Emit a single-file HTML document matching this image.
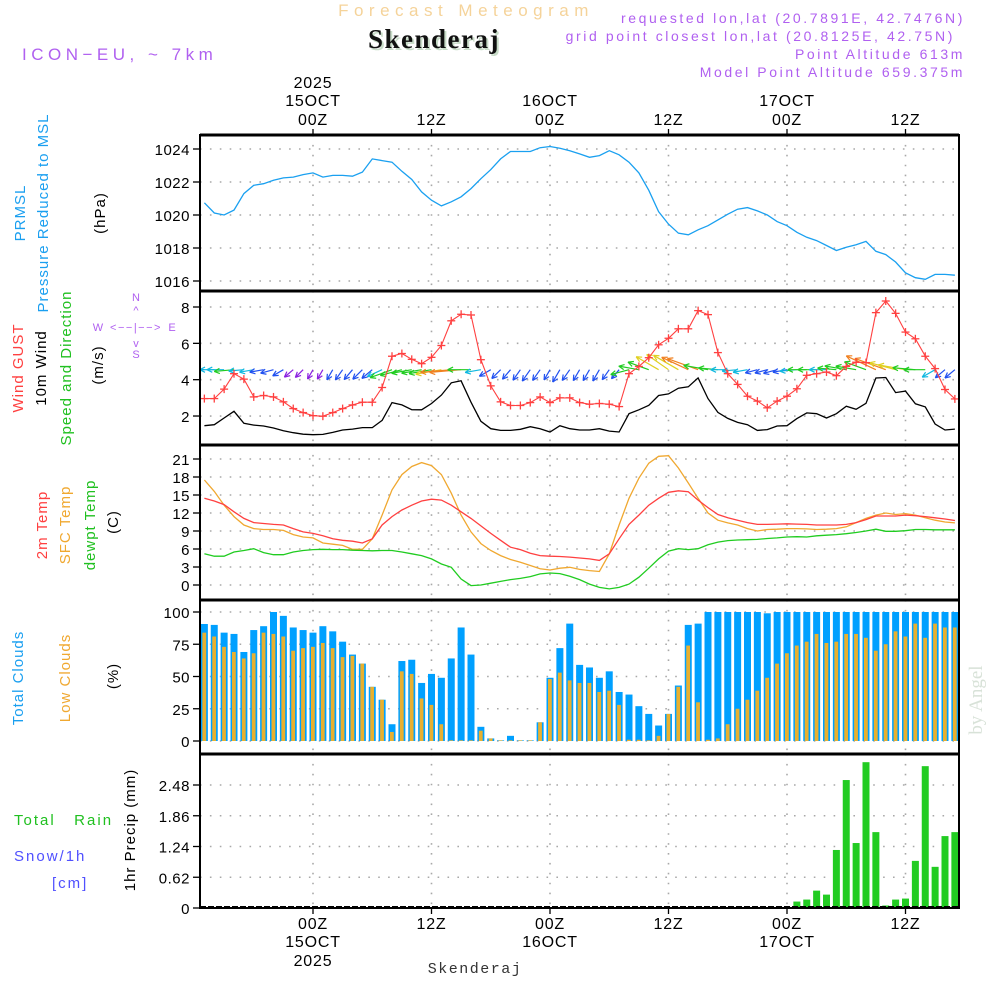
<!DOCTYPE html>
<html><head><meta charset="utf-8">
<style>
html,body{margin:0;padding:0;background:#fff;}
svg{display:block;font-family:"Liberation Sans",sans-serif;}
</style></head>
<body>
<svg id="c" width="1000" height="1000" viewBox="0 0 1000 1000" xmlns="http://www.w3.org/2000/svg">
<g>
<text x="466" y="16" text-anchor="middle" font-size="17" fill="#f5d39a" letter-spacing="5.5">Forecast Meteogram</text>
<text x="436" y="50" text-anchor="middle" font-size="27" font-weight="bold" font-family="Liberation Serif,serif" fill="#c8dcc8" letter-spacing="1.5">Skenderaj</text>
<text x="434" y="48" text-anchor="middle" font-size="27" font-weight="bold" font-family="Liberation Serif,serif" fill="#111" letter-spacing="1.5">Skenderaj</text>
<text x="965" y="23" text-anchor="end" font-size="14" fill="#b060f0" letter-spacing="2.6">requested lon,lat (20.7891E, 42.7476N)</text>
<text x="955" y="41" text-anchor="end" font-size="14" fill="#b060f0" letter-spacing="2.6">grid point closest lon,lat (20.8125E, 42.75N)</text>
<text x="965" y="59" text-anchor="end" font-size="14" fill="#b060f0" letter-spacing="2.6">Point Altitude 613m</text>
<text x="965" y="77" text-anchor="end" font-size="14" fill="#b060f0" letter-spacing="2.6">Model Point Altitude 659.375m</text>
<text x="22" y="60" font-size="17" fill="#b060f0" letter-spacing="4.5">ICON−EU, ~ 7km</text>
<text x="982" y="700" font-size="19" font-family="Liberation Serif,serif" fill="#d8e2d8" transform="rotate(-90 982 700)" text-anchor="middle">by Angel</text>
</g>
<g font-size="15" letter-spacing="1">
<text transform="translate(25,213) rotate(-90)" text-anchor="middle" fill="#1a9ff0">PRMSL</text>
<text transform="translate(48,213) rotate(-90)" text-anchor="middle" fill="#1a9ff0">Pressure Reduced to MSL</text>
<text transform="translate(105,213) rotate(-90)" text-anchor="middle" fill="#000">(hPa)</text>
<text transform="translate(23,368) rotate(-90)" text-anchor="middle" fill="#ff4040">Wind GUST</text>
<text transform="translate(46,368) rotate(-90)" text-anchor="middle" fill="#000">10m Wind</text>
<text transform="translate(71,368) rotate(-90)" text-anchor="middle" fill="#20c020">Speed and Direction</text>
<text transform="translate(103,365) rotate(-90)" text-anchor="middle" fill="#000">(m/s)</text>
<g fill="#b060f0" stroke="none" font-size="11" letter-spacing="0">
<text x="136" y="301" text-anchor="middle">N</text><text x="136" y="358" text-anchor="middle">S</text>
<text x="98" y="331" text-anchor="middle">W</text><text x="172" y="331" text-anchor="middle">E</text>
<text x="136" y="331" text-anchor="middle" letter-spacing="1.5">&lt;−−|−−&gt;</text>
<text x="136" y="314" text-anchor="middle">^</text><text x="136" y="347" text-anchor="middle">v</text>
</g>
<text transform="translate(47,525) rotate(-90)" text-anchor="middle" fill="#ff4040">2m Temp</text>
<text transform="translate(70,525) rotate(-90)" text-anchor="middle" fill="#f0a830">SFC Temp</text>
<text transform="translate(95,525) rotate(-90)" text-anchor="middle" fill="#20c020">dewpt Temp</text>
<text transform="translate(118,522) rotate(-90)" text-anchor="middle" fill="#000">(C)</text>
<text transform="translate(23,678) rotate(-90)" text-anchor="middle" fill="#1a9ff0">Total Clouds</text>
<text transform="translate(70,678) rotate(-90)" text-anchor="middle" fill="#f0a830">Low Clouds</text>
<text transform="translate(118,676) rotate(-90)" text-anchor="middle" fill="#000">(%)</text>
<text x="14" y="825" fill="#20c020" letter-spacing="2" xml:space="preserve">Total   Rain</text>
<text x="14" y="861" fill="#5050ff" letter-spacing="2">Snow/1h</text>
<text x="52" y="888" fill="#5050ff" letter-spacing="2">[cm]</text>
<text transform="translate(135,830) rotate(-90)" text-anchor="middle" fill="#000">1hr Precip (mm)</text>
</g>
<g id="plot"></g>
</svg>
<script>
const hours=[];for(let h=-11;h<=65;h++)hours.push(h);
const pressure=[1020.74,1020.12,1020.0,1020.3,1021.3,1021.8,1021.9,1022.1,1022.25,1022.3,1022.45,1022.55,1022.3,1022.4,1022.4,1022.35,1022.6,1023.4,1023.3,1023.2,1022.65,1022.15,1021.4,1020.9,1020.55,1020.8,1021.1,1021.6,1022.2,1022.75,1023.4,1023.85,1023.85,1023.85,1024.08,1024.15,1024.05,1023.9,1023.7,1023.5,1023.6,1023.9,1023.65,1023.2,1022.55,1021.5,1020.2,1019.45,1018.9,1018.8,1019.1,1019.35,1019.7,1020.05,1020.35,1020.45,1020.25,1020.0,1019.6,1019.35,1018.95,1018.65,1018.45,1018.15,1017.85,1018.05,1018.2,1018.4,1017.8,1017.6,1017.15,1016.5,1016.2,1016.1,1016.4,1016.4,1016.35];
const gust=[2.96,2.96,3.48,4.33,4.03,3.05,3.13,3.05,2.78,2.41,2.19,2.02,1.99,2.19,2.41,2.61,2.76,2.76,3.57,5.29,5.44,5.12,4.88,5.23,5.88,7.24,7.6,7.56,5.1,3.66,2.78,2.58,2.58,2.74,3.05,2.74,3.0,3.0,2.74,2.65,2.69,2.65,2.52,4.33,4.73,5.21,5.92,6.28,6.8,6.8,7.8,7.58,5.49,4.33,3.74,3.09,2.82,2.45,2.82,3.09,3.5,4.24,4.33,4.42,4.22,4.73,4.96,4.94,7.69,8.33,7.65,6.62,6.25,5.29,4.61,3.46,2.94];
const wspd=[1.47,1.52,1.89,2.26,1.6,1.5,1.45,1.34,1.19,1.08,1.0,0.97,0.99,1.1,1.23,1.28,1.36,1.36,1.76,2.74,2.61,2.35,2.34,2.69,3.15,3.83,3.94,2.76,1.71,1.3,1.21,1.21,1.27,1.41,1.3,1.12,1.47,1.3,1.23,1.23,1.3,1.17,1.12,2.13,2.34,2.59,3.13,3.22,3.53,3.61,4.1,2.96,2.2,1.87,1.65,1.52,1.21,1.25,1.45,1.47,1.86,2.17,2.13,1.89,2.13,2.54,2.37,2.7,4.09,4.12,3.29,3.37,2.67,2.5,1.56,1.23,1.28];
const wdir=[90,90,90,85,85,80,80,75,60,50,45,30,30,30,35,40,45,50,65,70,75,80,80,80,80,85,85,90,80,60,45,40,35,35,35,30,30,35,30,30,30,35,40,75,100,110,120,125,120,115,110,100,95,90,85,80,75,75,75,80,85,90,90,90,95,100,100,110,115,110,105,100,95,90,60,50,50];
const t2m=[14.45,14.0,13.4,12.2,11.1,10.4,10.25,10.1,10.0,9.4,8.85,8.6,8.2,7.7,7.45,7.3,7.0,7.7,10.0,11.4,12.5,13.3,14.0,14.3,14.15,13.3,12.2,11.1,9.85,8.6,7.45,6.3,5.9,5.3,4.9,4.8,4.75,4.65,4.5,4.35,4.1,5.2,7.7,10.1,11.65,13.3,14.45,15.45,15.7,15.55,14.15,12.9,11.75,11.2,10.8,10.4,10.1,10.1,10.15,10.2,10.15,10.1,10.0,10.0,10.0,10.1,10.4,10.9,11.5,11.5,11.5,11.65,11.55,11.4,11.2,11.0,10.75];
const tsfc=[17.5,15.6,13.3,11.4,10.0,9.4,9.25,9.25,9.1,8.4,8.0,7.85,7.0,6.8,6.6,5.95,5.95,7.7,11.65,15.85,18.4,19.75,20.4,19.9,18.4,15.3,11.65,8.85,6.9,5.75,4.9,4.25,3.8,3.25,2.7,2.5,2.8,2.95,2.6,2.4,2.25,5.2,10.0,14.45,17.8,20.3,21.45,21.55,19.5,17.0,14.45,12.0,10.8,10.35,10.0,9.4,9.0,9.25,9.3,9.4,9.4,9.35,9.25,9.3,9.4,9.7,10.4,11.1,11.65,12.0,11.75,11.9,11.65,11.2,10.8,10.5,10.35];
const dewpt=[5.2,4.8,4.8,5.5,5.75,6.05,5.4,5.05,5.05,5.5,5.75,5.9,5.95,5.9,5.9,5.8,5.75,5.7,5.75,5.75,5.5,5.2,4.9,4.35,3.5,2.95,1.0,-0.1,0,0.3,0.6,0.9,1.1,1.4,1.85,2.0,1.9,1.45,0.9,0.15,-0.4,-0.65,-0.4,0.15,1.3,2.8,4.35,5.65,6.05,5.9,6.05,6.7,7.15,7.4,7.5,7.55,7.6,7.75,7.85,8.0,8.05,8.0,8.2,8.3,8.4,8.55,8.75,9.0,9.3,8.95,8.95,9.05,9.25,9.25,9.2,9.2,9.2];
const totalCloud=[90.7,90,84,83,69,86,89,100,97,88,86,84,89,85,77,67,60,42,32,13,62,63,45,52,49,64,88,67,11,2,0.5,4,0.5,0.5,14.5,49,72,91,59,57,49,54,38,36,27,21,12,21,43,90,91,100,100,100,100,100,100,99,100,100,100,100,100,100,100,100,100,100,100,100,100,100,100,100,100,100,100];
const lowCloud=[84,81,73,69,64,68,84,83,81,70,72,73,76,72,65,66,60,42,32,7,54,52,33,28,13,0.5,0.5,0.5,8,2,0.5,0.5,0.5,0.5,14.5,48,53,47,45,45,38,39,28,1,1,0.5,4,21,42,74,30,1,2,13,25,32,39,49,60,68,74,77,83,76,77,83,83,80,70,75,85,81,91,80,91,88,88];
const precip=[0,0,0,0,0,0,0,0,0,0,0,0,0,0,0,0,0,0,0,0,0,0,0,0,0,0,0,0,0,0,0,0,0,0,0,0,0,0,0,0,0,0,0,0,0,0,0,0,0,0,0,0,0,0,0,0,0,0.02,0.02,0.02,0.13,0.17,0.35,0.27,1.17,2.58,1.31,2.94,1.53,0.05,0.17,0.19,0.95,2.86,0.83,1.45,1.53];
const pTicks=["1016","1018","1020","1022","1024"];
const wTicks=["2","4","6","8"];
const tTicks=["0","3","6","9","12","15","18","21"];
const cTicks=["0","25","50","75","100"];
const rTicks=["0","0.62","1.24","1.86","2.48"];
const gridHours=[0,12,24,36,48,60];
const topDays=[["2025","15OCT","00Z"],["","","12Z"],["","16OCT","00Z"],["","","12Z"],["","17OCT","00Z"],["","","12Z"]];

const NS="http://www.w3.org/2000/svg";
const plot=document.getElementById('plot');
const L=200,R=959;
function X(t){return 313+9.875*t;}
function mk(tag,attrs,parent){const e=document.createElementNS(NS,tag);for(const k in attrs)e.setAttribute(k,attrs[k]);(parent||plot).appendChild(e);return e;}
const Yp=v=>149+(1024-v)*16.5;
const Yw=v=>307+(8-v)*18.17;
const Yt=v=>585-v*6;
const Yc=v=>741-v*1.29;
const Yr=v=>908-v*(123/2.48);
const panels=[[135,291],[291,445],[445,600],[600,754],[754,908]];

const defs=mk('defs',{});
panels.forEach((p,i)=>{const cp=mk('clipPath',{id:'cp'+i},defs);mk('rect',{x:L,y:p[0],width:R-L,height:p[1]-p[0]},cp);});

function grid(pi,ticks,yf){
  const g=mk('g',{});
  
  
  const p=panels[pi];
  ticks.forEach(tk=>{const y=yf(parseFloat(tk));
    mk('line',{x1:L,x2:R,y1:y,y2:y,stroke:'#a8a8a8','stroke-width':1.6,'stroke-dasharray':'1.6 8.3'},g);
    mk('line',{x1:L-7,x2:L,y1:y,y2:y,stroke:'#000','stroke-width':1.3},g);
    const tx=mk('text',{x:L-10,y:y+6,'text-anchor':'end','font-size':15,fill:'#000','letter-spacing':0.5},g);
    
    
    tx.textContent=tk;});
  gridHours.forEach(h=>{const x=X(h);
    mk('line',{x1:x,x2:x,y1:p[0],y2:p[1],stroke:'#a8a8a8','stroke-width':1.6,'stroke-dasharray':'1.6 8.3'},g);});
}
grid(0,pTicks,Yp);grid(1,wTicks,Yw);grid(2,tTicks,Yt);grid(3,cTicks,Yc);grid(4,rTicks,Yr);

function line(pi,arr,yf,color,name,w){
  const pts=arr.map((v,i)=>X(hours[i]).toFixed(1)+','+yf(v).toFixed(1)).join(' ');
  const e=mk('polyline',{points:pts,fill:'none',stroke:color,'stroke-width':w||1.3,'clip-path':'url(#cp'+pi+')'});
  
  
  return e;
}
line(0,pressure,Yp,'#1aa0f0','pressure-line');
const cg=mk('g',{'clip-path':'url(#cp3)'});


totalCloud.forEach((v,i)=>{const x=X(hours[i]);
  const b=mk('rect',{x:x-3.5,y:Yc(v),width:7,height:Yc(0)-Yc(v),fill:'#00a0ff'},cg);
  
  });
lowCloud.forEach((v,i)=>{const x=X(hours[i]);
  const b=mk('rect',{x:x-2,y:Yc(v),width:3.8,height:Yc(0)-Yc(v),fill:'#e8b030'},cg);
  
  });
const rg=mk('g',{'clip-path':'url(#cp4)'});


precip.forEach((v,i)=>{if(v<=0)return;const x=X(hours[i]);
  const b=mk('rect',{x:x-3.5,y:Yr(v),width:7,height:Yr(0)-Yr(v),fill:'#22cc22'},rg);
  
  });
mk('line',{x1:L,x2:R,y1:907,y2:907,stroke:'#000','stroke-width':2,'stroke-dasharray':'6 2'});
line(2,tsfc,Yt,'#f0a830','sfc-temp-line');
line(2,t2m,Yt,'#ff4040','t2m-line');
line(2,dewpt,Yt,'#20cc20','dewpt-line');
line(1,wspd,Yw,'#000','wind-speed-line');
function spdColor(s){if(s<1.1)return '#8a20e0';if(s<1.5)return '#2050f0';if(s<2)return '#10b8e0';if(s<3)return '#20cc20';if(s<3.6)return '#e0d020';return '#f08020';}
const ag=mk('g',{'clip-path':'url(#cp1)'});


wdir.forEach((d,i)=>{const s=wspd[i];const x0=X(hours[i]),y0=Yw(4.55);
  const a=(d+180)*Math.PI/180;const len=7*s+4;
  const x1=x0+len*Math.sin(a),y1=y0-len*Math.cos(a);
  const c=spdColor(s);
  const g=mk('g',{stroke:c,'stroke-width':1.2,fill:'none'},ag);
  
  
  mk('line',{x1:x0,y1:y0,x2:x1,y2:y1},g);
  const back=a+Math.PI;
  [0.45,-0.45].forEach(o=>{mk('line',{x1:x1,y1:y1,x2:x1+6*Math.sin(back+o),y2:y1-6*Math.cos(back+o)},g);});
});
line(1,gust,Yw,'#ff4040','gust-line',1.1);
const gm=mk('g',{stroke:'#ff4040','stroke-width':1.3,'clip-path':'url(#cp1)'});


gust.forEach((v,i)=>{const x=X(hours[i]),y=Yw(v);
  mk('line',{x1:x-4,x2:x+4,y1:y,y2:y},gm);mk('line',{x1:x,x2:x,y1:y-4,y2:y+4},gm);});
panels.forEach((p,i)=>{const f=mk('rect',{x:L,y:p[0],width:R-L,height:p[1]-p[0],fill:'none',stroke:'#000','stroke-width':2});
  
  });
panels.slice(1).forEach(p=>mk('line',{x1:L,x2:R,y1:p[0],y2:p[0],stroke:'#000','stroke-width':3}));
mk('line',{x1:L,x2:R,y1:135,y2:135,stroke:'#000','stroke-width':3});
topDays.forEach((lab,k)=>{const x=X(gridHours[k]);
  [[lab[0],88],[lab[1],106],[lab[2],125]].forEach(([s,y])=>{if(!s)return;
    const t=mk('text',{x:x,y:y,'text-anchor':'middle','font-size':16,fill:'#000','letter-spacing':0.8});
    
    
    t.textContent=s;});
  mk('line',{x1:x,x2:x,y1:129,y2:135,stroke:'#000','stroke-width':1.3});
  mk('line',{x1:x,x2:x,y1:908,y2:914,stroke:'#000','stroke-width':1.3});
  [[lab[2],929],[lab[1],947],[lab[0],966]].forEach(([s,y])=>{if(!s)return;
    const t=mk('text',{x:x,y:y,'text-anchor':'middle','font-size':16,fill:'#000','letter-spacing':0.8});
    
    
    t.textContent=s;});
});
const ft=mk('text',{x:475,y:973,'text-anchor':'middle','font-size':15,'font-family':'Liberation Mono,monospace',fill:'#333','letter-spacing':1.5});


ft.textContent='Skenderaj';
</script>
</body></html>
